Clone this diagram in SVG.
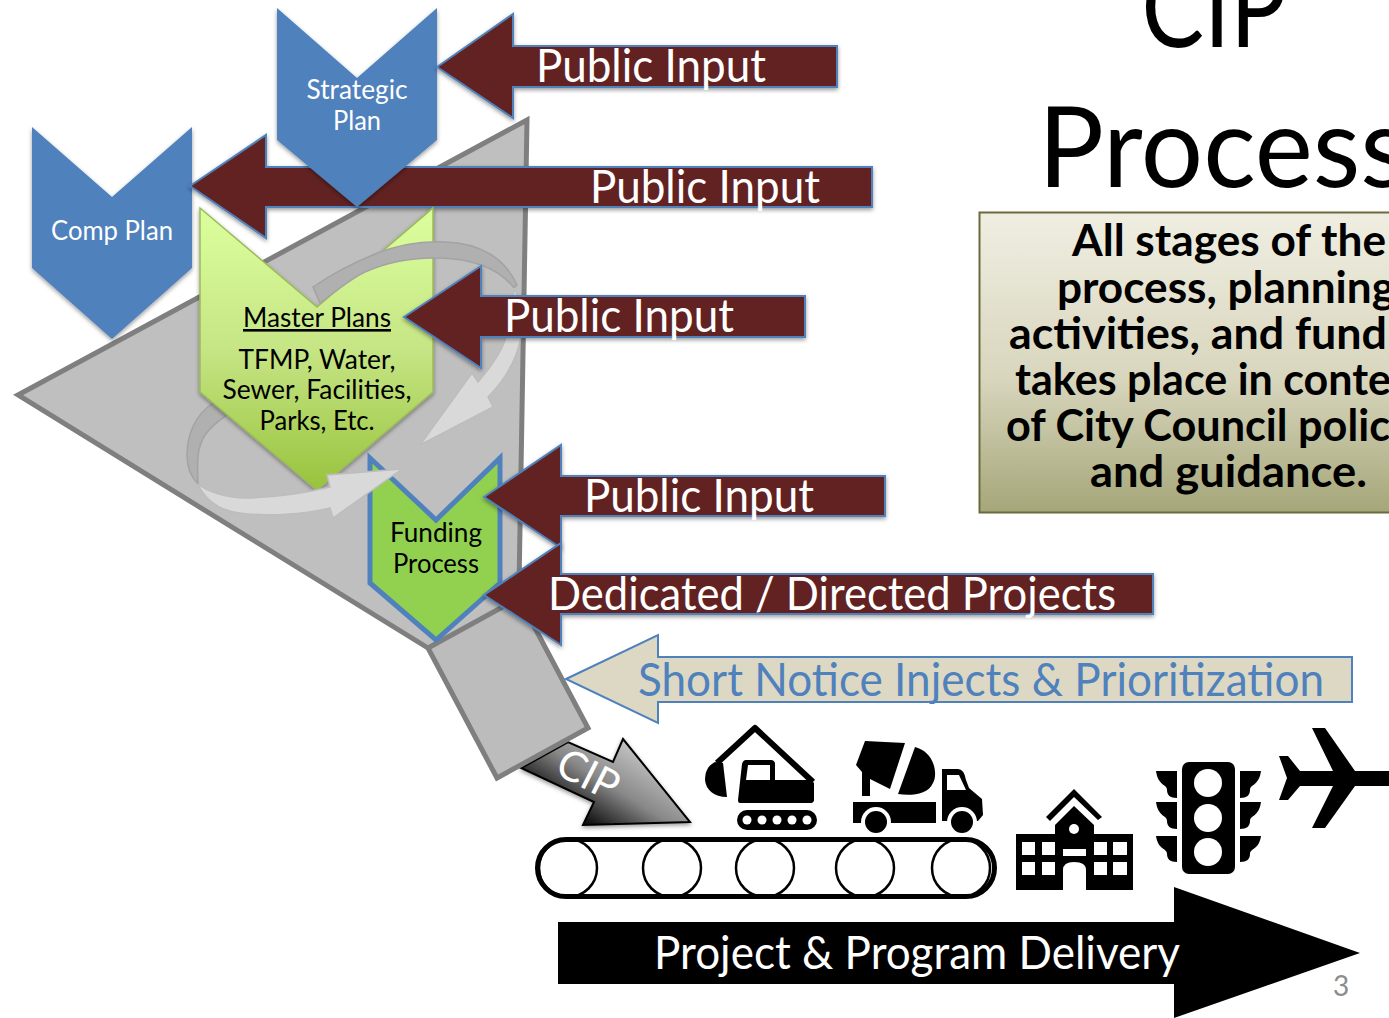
<svg xmlns="http://www.w3.org/2000/svg" width="1389" height="1018" viewBox="0 0 1389 1018">
<style>
text{font-family:"Lato","Carlito","Noto Sans",sans-serif}
.maroon{fill:#622423;stroke:#4f81bd;stroke-width:2;stroke-linejoin:miter;filter:url(#sh)}
.wlabel{fill:#fff;font-size:46px}
.blue{fill:#4f81bd;filter:url(#sh)}
.small{font-size:26px;fill:#000}
.swhite{font-size:26px;fill:#fff}
.body{font-size:44px;font-weight:700;fill:#000}
.title{font-size:112px;font-weight:400;fill:#000}
.dark{fill:#b0b0b0;stroke:#a3a3a3;stroke-width:1.5}
.light{fill:#d9d9d9;stroke:#bdbdbd;stroke-width:1.5}
.k{fill:#000}
.w{fill:#fff}
</style>
<defs>
<filter id="sh" x="-10%" y="-10%" width="120%" height="125%"><feDropShadow dx="0" dy="2" stdDeviation="2" flood-color="#000" flood-opacity=".4"/></filter>
<linearGradient id="mp" x1="0" y1="0" x2="0" y2="1"><stop offset="0" stop-color="#dcff9e"/><stop offset=".5" stop-color="#c6e584"/><stop offset="1" stop-color="#98c33d"/></linearGradient>
<linearGradient id="box" x1="0" y1="0" x2="0" y2="1"><stop offset="0" stop-color="#f0eee2"/><stop offset=".55" stop-color="#d8d6bd"/><stop offset="1" stop-color="#a5a679"/></linearGradient>
<linearGradient id="cipg" gradientUnits="userSpaceOnUse" x1="650" y1="755" x2="600" y2="835"><stop offset="0" stop-color="#c4c4c4"/><stop offset=".5" stop-color="#888"/><stop offset="1" stop-color="#050505"/></linearGradient>
</defs>
<rect width="1389" height="1018" fill="#fff"/>

<g id="title">
<text class="title" x="1214" y="47" text-anchor="middle" textLength="145" lengthAdjust="spacingAndGlyphs">CIP</text>
<text class="title" x="1038" y="187" textLength="370" lengthAdjust="spacingAndGlyphs">Process</text>
</g>

<g id="council-note">
<rect x="979.500" y="212.500" width="430" height="300" fill="url(#box)" stroke="#6b6a3c" stroke-width="2"/>
<text class="body" x="1072" y="256" textLength="314" lengthAdjust="spacingAndGlyphs">All stages of the</text>
<text class="body" x="1057" y="303" textLength="338" lengthAdjust="spacingAndGlyphs">process, planning</text>
<text class="body" x="1009" y="349" textLength="378" lengthAdjust="spacingAndGlyphs">activities, and fund</text>
<text class="body" x="1015" y="395" textLength="376" lengthAdjust="spacingAndGlyphs">takes place in conte</text>
<text class="body" x="1006" y="441" textLength="384" lengthAdjust="spacingAndGlyphs">of City Council polic</text>
<text class="body" x="1090" y="487" textLength="277" lengthAdjust="spacingAndGlyphs">and guidance.</text>
</g>

<g id="cip-arrow">
<path d="M521,768L568,742L613,762L623,739L690,822L583,825L594,802Z" fill="url(#cipg)" stroke="#000" stroke-width="2" filter="url(#sh)"/>
</g>

<g id="funnel">
<path d="M18,395L527,120L517,703Z" fill="#bfbfbf" stroke="#7f7f7f" stroke-width="5" stroke-linejoin="miter"/>
<path d="M428,648L519,598L588,728L497,778Z" fill="#bcbcbc" stroke="#7f7f7f" stroke-width="5" stroke-linejoin="miter"/>
</g>
<g id="cip-label"><text x="588" y="789" fill="#fff" font-size="42" text-anchor="middle" transform="rotate(27 588 775)" textLength="64" lengthAdjust="spacingAndGlyphs">CIP</text></g>

<g id="comp-plan">
<path class="blue" d="M32,127L112,197L192,127V268L112,339L32,268Z"/>
<text class="swhite" x="112" y="240" text-anchor="middle" textLength="122" lengthAdjust="spacingAndGlyphs">Comp Plan</text>
</g>

<g id="public-input-2">
<path class="maroon" d="M190,186L266,135V167H872V207H266V238Z"/>
<text class="wlabel" x="590" y="203" textLength="230" lengthAdjust="spacingAndGlyphs">Public Input</text>
</g>

<g id="strategic-plan">
<path class="blue" d="M277,8L357,78L437,8V140L357,207L277,140Z"/>
<text class="swhite" x="357" y="99" text-anchor="middle" textLength="101" lengthAdjust="spacingAndGlyphs">Strategic</text>
<text class="swhite" x="357" y="130" text-anchor="middle" textLength="48" lengthAdjust="spacingAndGlyphs">Plan</text>
</g>

<g id="funnel-loop-back" class="connectors">
<path class="dark" d="M213,403C195,415 187,435 187,455C187,470 192,478 198,484C198,470 195,450 205,435C212,425 220,420 227,415Z"/>
</g>

<g id="master-plans">
<path d="M200,208L317,307L433,208V392L317,490L200,392Z" fill="url(#mp)" stroke="#9bbb59" stroke-width="1.500" filter="url(#sh)"/>
<text class="small" x="317" y="327" text-anchor="middle" text-decoration="underline" textLength="148" lengthAdjust="spacingAndGlyphs">Master Plans</text>
<text class="small" x="317" y="369" text-anchor="middle" textLength="157" lengthAdjust="spacingAndGlyphs">TFMP, Water,</text>
<text class="small" x="317" y="399" text-anchor="middle" textLength="189" lengthAdjust="spacingAndGlyphs">Sewer, Facilities,</text>
<text class="small" x="317" y="430" text-anchor="middle" textLength="115" lengthAdjust="spacingAndGlyphs">Parks, Etc.</text>
</g>

<g id="funding-process">
<path d="M370,458L436,520L500,458V583L436,640L370,583Z" fill="#92d050" stroke="#4f81bd" stroke-width="5" stroke-linejoin="miter"/>
<text class="small" x="436" y="542" text-anchor="middle" textLength="92" lengthAdjust="spacingAndGlyphs">Funding</text>
<text class="small" x="436" y="573" text-anchor="middle" textLength="86" lengthAdjust="spacingAndGlyphs">Process</text>
</g>

<g id="connectors">
<path class="dark" d="M313,287C335,272 355,262 375,254C400,244 425,241 445,242C480,243 505,258 517,285L514,288C500,270 475,259 440,258C410,257 385,263 365,272C350,279 335,292 320,303Z"/>
<path class="light" d="M514,288C522,305 525,322 520,342C515,362 503,382 488,397L493,407L420,445L472,373L478,382C490,368 500,355 505,340C510,322 513,305 514,288Z"/>
<path class="light" d="M198,484C204,497 215,510 240,513C270,517 305,514 330,508L333,518L402,469L327,475L330,487C305,493 275,497 250,498C225,499 205,490 198,484Z"/>
</g>

<g id="public-input-1">
<path class="maroon" d="M437,67L513,14V46H837V87H513V118Z"/>
<text class="wlabel" x="536" y="82" textLength="230" lengthAdjust="spacingAndGlyphs">Public Input</text>
</g>
<g id="public-input-3">
<path class="maroon" d="M404,317L481,266V296H805V337H481V368Z"/>
<text class="wlabel" x="504" y="332" textLength="230" lengthAdjust="spacingAndGlyphs">Public Input</text>
</g>
<g id="public-input-4">
<path class="maroon" d="M484,497L561,445V476H885V516H561V548Z"/>
<text class="wlabel" x="584" y="512" textLength="230" lengthAdjust="spacingAndGlyphs">Public Input</text>
</g>
<g id="dedicated-projects">
<path class="maroon" d="M484,595L561,543V574H1153V614H561V645Z"/>
<text class="wlabel" x="548" y="610" textLength="568" lengthAdjust="spacingAndGlyphs">Dedicated / Directed Projects</text>
</g>
<g id="short-notice">
<path d="M566,679L658,635V657H1352V702H658V723Z" fill="#ddd8c4" stroke="#4f81bd" stroke-width="2"/>
<text x="638" y="696" fill="#4f81bd" font-size="46" textLength="686" lengthAdjust="spacingAndGlyphs">Short Notice Injects &amp; Prioritization</text>
</g>

<g id="excavator">
<path d="M717,763L755,728L813,782" fill="none" stroke="#000" stroke-width="6" stroke-linejoin="round"/>
<path class="k" d="M715,762C707,766 705,773 705,780C706,790 714,797 727,797L723,763Z"/>
<path class="k" fill-rule="evenodd" d="M746,760H771Q774,760 775,763V780H811L814,783V801L812,803H740Q738,803 738,800L742,764Q743,760 746,760ZM748,765L746,780H770V765Z"/>
<rect class="k" x="737" y="810" width="80" height="20" rx="10"/>
<g class="w"><circle cx="747" cy="820" r="4.500"/><circle cx="762" cy="820" r="4.500"/><circle cx="777" cy="820" r="4.500"/><circle cx="792" cy="820" r="4.500"/><circle cx="807" cy="820" r="4.500"/></g>
</g>

<g id="mixer-truck">
<path class="k" d="M865,741L905,743L890,789L870,779V796H862V772L856,765Z"/>
<path class="k" d="M915,747C935,752 938,775 933,783C928,795 910,796 898,794Z"/>
<rect class="k" x="853" y="802" width="83" height="21"/>
<path class="k" d="M942,769H958Q964,769 966,780L969,788L982,799L983,815L978,821H942Z"/>
<path class="w" d="M947,775H959L966,790H947Z"/>
<circle class="w" cx="876" cy="822" r="15"/><circle class="k" cx="876" cy="822" r="11"/>
<circle class="w" cx="962" cy="822" r="15"/><circle class="k" cx="962" cy="822" r="11"/>
</g>

<g id="school">
<path class="k" d="M1046,817L1074,789L1102,817L1098,820L1074,797L1050,821Z"/>
<path class="k" d="M1016,834H1055V825L1074,806L1094,825V834H1133V890H1086V870Q1086,862 1074,862Q1063,862 1063,870V890H1016Z"/>
<g class="w">
<circle cx="1074" cy="829" r="5"/>
<rect x="1022" y="842" width="13" height="13"/><rect x="1042" y="842" width="13" height="13"/>
<rect x="1022" y="862" width="13" height="13"/><rect x="1042" y="862" width="13" height="13"/>
<rect x="1094" y="842" width="13" height="13"/><rect x="1113" y="842" width="14" height="13"/>
<rect x="1094" y="862" width="13" height="13"/><rect x="1113" y="862" width="14" height="13"/>
<rect x="1063" y="849" width="23" height="7"/>
</g>
</g>

<g id="traffic-light">
<rect class="k" x="1182" y="762" width="53" height="112" rx="7"/>
<g class="w"><circle cx="1208" cy="783" r="14"/><circle cx="1208" cy="818" r="14"/><circle cx="1208" cy="852" r="14"/></g>
<g class="k">
<path id="visor" d="M1156,771H1177V798C1170,798 1167,795 1167,790C1167,784 1158,786 1156,771Z"/>
<path d="M1156,802H1177V829C1170,829 1167,826 1167,821C1167,815 1158,817 1156,802Z"/>
<path d="M1156,836H1177V862C1170,862 1167,859 1167,854C1167,848 1158,850 1156,836Z"/>
<path d="M1261,771H1240V798C1247,798 1250,795 1250,790C1250,784 1259,786 1261,771Z"/>
<path d="M1261,802H1240V829C1247,829 1250,826 1250,821C1250,815 1259,817 1261,802Z"/>
<path d="M1261,836H1240V862C1247,862 1250,859 1250,854C1250,848 1259,850 1261,836Z"/>
</g>
</g>

<g id="airplane">
<path class="k" d="M1279,756H1288L1300,771H1333L1312,728H1325L1355,771H1389V786H1355L1325,828H1312L1333,786H1300L1288,800H1279L1287,778Z"/>
</g>

<g id="conveyor">
<rect x="537.500" y="839.500" width="457" height="57" rx="28.500" fill="#fff" stroke="#000" stroke-width="5"/>
<g fill="none" stroke="#000" stroke-width="2.500">
<circle cx="568" cy="868" r="29"/><circle cx="672" cy="868" r="29"/><circle cx="765" cy="868" r="29"/><circle cx="865" cy="868" r="29"/><circle cx="961" cy="868" r="29"/>
</g>
</g>

<g id="delivery">
<path class="k" d="M558,922H1174V887L1360,953L1174,1018V984H558Z"/>
<text class="wlabel" x="654" y="969" textLength="526" lengthAdjust="spacingAndGlyphs">Project &amp; Program Delivery</text>
</g>
<g id="page-number"><text x="1341" y="996" fill="#8c8c8c" font-size="28" text-anchor="middle">3</text></g>
</svg>
